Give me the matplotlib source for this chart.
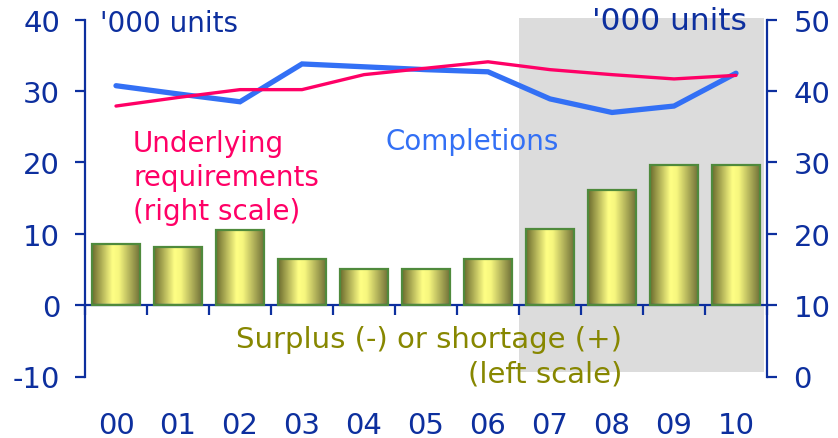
import matplotlib.pyplot as plt
import numpy as np
from matplotlib.colors import LinearSegmentedColormap
from matplotlib.patches import Rectangle
from matplotlib.transforms import blended_transform_factory

# Housing market: dwelling completions vs underlying requirements ('000 units)
years = ["00", "01", "02", "03", "04", "05", "06", "07", "08", "09", "10"]
shortage = [8.5, 8.2, 10.5, 6.5, 5.1, 5.1, 6.5, 10.7, 16.1, 19.7, 19.7]
completions = [40.75, 39.6, 38.5, 43.8, 43.4, 43.0, 42.7, 38.9, 37.0, 37.9, 42.5]
requirements = [37.9, 39.1, 40.2, 40.2, 42.3, 43.2, 44.1, 43.0, 42.3, 41.7, 42.2]
forecast_years = ["07", "08", "09", "10"]

left_ticks = [-10, 0, 10, 20, 30, 40]
right_ticks = [0, 10, 20, 30, 40, 50]

NAVY = "#0d2f9e"
PINK = "#ff0066"
BLUE = "#3370f5"
OLIVE = "#878700"
SHADE = "#dcdcdc"
BAR_EDGE = "#4f8a3c"

plt.rcParams["font.family"] = ["DejaVu Sans"]
plt.rcParams["axes.unicode_minus"] = False

fig = plt.figure(figsize=(8.38, 4.39), dpi=100)
ax = fig.add_axes([85 / 838, 61.5 / 439, 682 / 838, 356.8 / 439])
ax2 = ax.twinx()

x = np.arange(len(years))
width = 0.79

# shaded forecast period
first = years.index(forecast_years[0])
last = years.index(forecast_years[-1])
ax.add_patch(Rectangle((first - 0.5, -9.3), last - first + 0.95, 49.55,
                       facecolor=SHADE, edgecolor="none", zorder=0, clip_on=False))

# cylinder-like shaded bars
bar_cmap = LinearSegmentedColormap.from_list(
    "bar", [(0, "#6b6b2e"), (0.42, "#ffff85"), (0.55, "#f6f67e"), (1, "#6b6b35")])
grad = np.linspace(0, 1, 256).reshape(1, -1)
for xi, h in zip(x, shortage):
    ax.imshow(grad, cmap=bar_cmap, extent=(xi - width / 2, xi + width / 2, 0, h),
              aspect="auto", zorder=2, interpolation="bicubic")
ax.bar(x, shortage, width=width, facecolor="none", edgecolor=BAR_EDGE,
       linewidth=1.6, zorder=3)

ax2.plot(x, completions, color=BLUE, linewidth=3.8, solid_capstyle="round",
         solid_joinstyle="miter", zorder=3)
ax2.plot(x, requirements, color=PINK, linewidth=2.4, solid_capstyle="round",
         zorder=4)

ax.set_xlim(-0.5, len(years) - 0.5)
ax.set_ylim(-10, 40)
ax2.set_ylim(0, 50)

for a in (ax, ax2):
    a.spines["top"].set_visible(False)
    for s in a.spines.values():
        s.set_color(NAVY)
        s.set_linewidth(1.6)
ax.spines["right"].set_visible(False)
ax.spines["bottom"].set_position(("data", 0))
ax2.spines["left"].set_visible(False)
ax2.spines["bottom"].set_visible(False)

ax.set_yticks(left_ticks)
ax2.set_yticks(right_ticks)
ax.tick_params(axis="y", direction="out", length=7, width=1.6, color=NAVY,
               labelcolor=NAVY, labelsize=21, pad=11)
ax2.tick_params(axis="y", direction="out", length=7, width=1.6, color=NAVY,
                labelcolor=NAVY, labelsize=21, pad=12)
ax.set_xticks(np.arange(-0.5, len(years), 1.0))
ax.tick_params(axis="x", direction="out", length=7, width=1.6, color=NAVY,
               labelbottom=False)

# year labels below the plot
trans = blended_transform_factory(ax.transData, fig.transFigure)
for xi, lab in zip(x, years):
    ax.text(xi, 1 - 426 / 439, lab, transform=trans, ha="center", va="center",
            fontsize=21, color=NAVY)

fig.text(100 / 838, 1 - 24 / 439, "'000 units", ha="left", va="center",
         fontsize=20, color=NAVY)
fig.text(747 / 838, 1 - 22 / 439, "'000 units", ha="right", va="center",
         fontsize=22.5, color=NAVY, zorder=10)

fig.text(133 / 838, 1 - 130 / 439, "Underlying\nrequirements\n(right scale)",
         ha="left", va="top", fontsize=20, color=PINK, linespacing=1.28)
fig.text(385 / 838, 1 - 142 / 439, "Completions", ha="left", va="center",
         fontsize=20, color=BLUE, zorder=10)
fig.text(622 / 838, 1 - 357 / 439, "Surplus (-) or shortage (+)\n(left scale)",
         ha="right", va="center", multialignment="right", fontsize=21,
         color=OLIVE, linespacing=1.28, zorder=10)

fig.savefig("out.png", dpi=100)
